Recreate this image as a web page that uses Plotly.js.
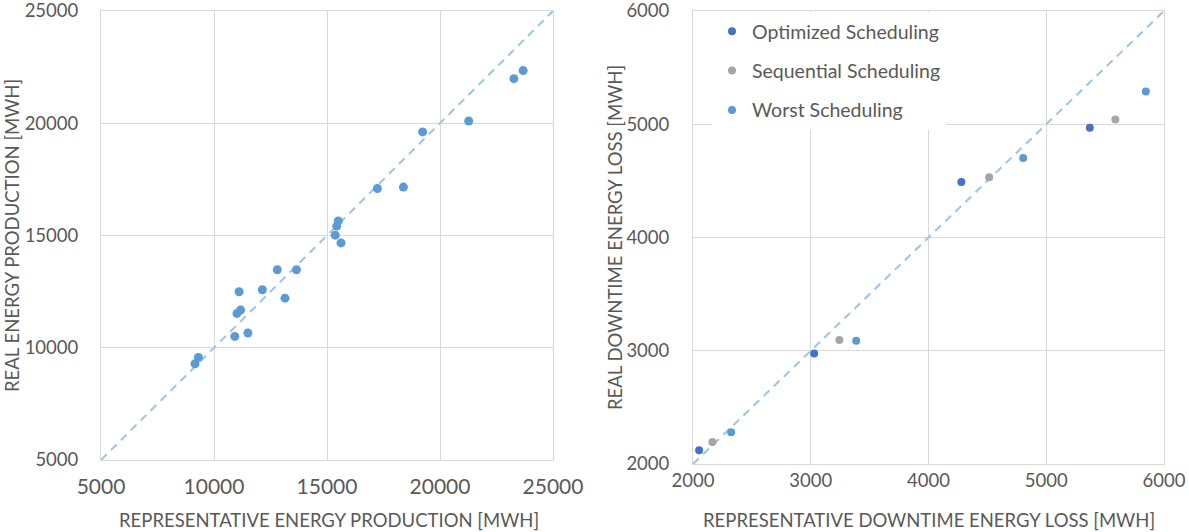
<!DOCTYPE html>
<html>
<head>
<meta charset="utf-8">
<script src="https://cdn.plot.ly/plotly-3.0.1.min.js"></script>
<style>
  html, body { margin: 0; padding: 0; background: #ffffff; }
  #chart { width: 1189px; height: 532px; }
</style>
</head>
<body>
<div id="chart"></div>
<script>
// Energy production: representative vs. real (MWh)
const prodRepresentative = [23680, 23270, 21270, 19230, 18380, 17230, 15500, 15430, 15365, 15620,
  13650, 12800, 12140, 13140, 11110, 11175, 11020, 11500, 10920, 9310, 9160];
const prodReal = [22345, 21985, 20100, 19615, 17155, 17095, 15650, 15420, 15015, 14670,
  13475, 13475, 12585, 12210, 12495, 11680, 11530, 10655, 10505, 9570, 9285];

// Downtime energy loss per scheduling strategy (MWh)
const optimizedRep = [2052, 3029, 4279, 5370];
const optimizedReal = [2122, 2975, 4491, 4968];
const sequentialRep = [2165, 3243, 4515, 5587];
const sequentialReal = [2194, 3095, 4532, 5043];
const worstRep = [2324, 3386, 4804, 5846];
const worstReal = [2280, 3089, 4702, 5290];

// Reference line y = x for each panel
const prodDiagonal = [5000, 25000];
const lossDiagonal = [2000, 6000];

// Tick labels
const prodTicks = [5000, 10000, 15000, 20000, 25000];
const lossTicks = [2000, 3000, 4000, 5000, 6000];

const seriesNames = ['Optimized Scheduling', 'Sequential Scheduling', 'Worst Scheduling'];
const axisTitles = {
  prodX: 'REPRESENTATIVE ENERGY PRODUCTION [MWH]',
  prodY: 'REAL ENERGY PRODUCTION [MWH]',
  lossX: 'REPRESENTATIVE DOWNTIME ENERGY LOSS [MWH]',
  lossY: 'REAL DOWNTIME ENERGY LOSS [MWH]'
};

const FONT = 'Lato, "Open Sans", sans-serif';
const TEXT = '#595959';
const GRID = '#d9d9d9';
const DIAG = '#9dc3e6';

const W = 1189, H = 532;
const px = v => v / W;
const py = v => 1 - v / H;

const traces = [
  {
    x: prodDiagonal, y: prodDiagonal, xaxis: 'x', yaxis: 'y',
    mode: 'lines', showlegend: false, hoverinfo: 'skip',
    line: { color: DIAG, width: 2, dash: '8px,6px' }
  },
  {
    x: prodRepresentative, y: prodReal, xaxis: 'x', yaxis: 'y',
    mode: 'markers', type: 'scatter', showlegend: false,
    marker: { color: '#5b9bd5', size: 9 }
  },
  {
    x: lossDiagonal, y: lossDiagonal, xaxis: 'x2', yaxis: 'y2',
    mode: 'lines', showlegend: false, hoverinfo: 'skip',
    line: { color: DIAG, width: 2, dash: '8px,6px' }
  },
  {
    x: optimizedRep, y: optimizedReal, xaxis: 'x2', yaxis: 'y2',
    mode: 'markers', type: 'scatter', name: seriesNames[0], legendgroup: 'a',
    marker: { color: '#4472c4', size: 8 }
  },
  {
    x: sequentialRep, y: sequentialReal, xaxis: 'x2', yaxis: 'y2',
    mode: 'markers', type: 'scatter', name: seriesNames[1], legendgroup: 'b',
    marker: { color: '#a5a5a5', size: 8 }
  },
  {
    x: worstRep, y: worstReal, xaxis: 'x2', yaxis: 'y2',
    mode: 'markers', type: 'scatter', name: seriesNames[2], legendgroup: 'c',
    marker: { color: '#5b9bd5', size: 8 }
  }
];

function axis(extra, fontSize) {
  return Object.assign({
    showgrid: true, gridcolor: GRID, gridwidth: 1,
    showline: true, linecolor: GRID, linewidth: 1, mirror: true,
    zeroline: false, ticks: '',
    tickmode: 'array', tickformat: 'd',
    ticklabeloverflow: 'allow',
    tickfont: { family: FONT, size: fontSize, color: TEXT },
    fixedrange: true
  }, extra);
}

function titleNote(text, x, y, angle) {
  return {
    text: text, xref: 'paper', yref: 'paper', x: x, y: y,
    xanchor: 'center', yanchor: 'middle', showarrow: false,
    textangle: angle, font: { family: FONT, size: 18.5, color: TEXT }
  };
}

const layout = {
  width: W, height: H,
  margin: { l: 0, r: 0, t: 0, b: 0 },
  paper_bgcolor: '#ffffff', plot_bgcolor: '#ffffff',
  font: { family: FONT, color: TEXT },
  xaxis: axis({
    domain: [px(101), px(553)], anchor: 'y',
    range: [5000, 25000], tickvals: prodTicks, ticklabelstandoff: 8
  }, 21),
  yaxis: axis({
    domain: [py(460), py(11)], anchor: 'x',
    range: [5000, 25000], tickvals: prodTicks, ticklabelstandoff: 18
  }, 18.5),
  xaxis2: axis({
    domain: [px(693), px(1164)], anchor: 'y2',
    range: [2000, 6000], tickvals: lossTicks, ticklabelstandoff: 0
  }, 18.5),
  yaxis2: axis({
    domain: [py(464), py(11)], anchor: 'x2',
    range: [2000, 6000], tickvals: lossTicks, ticklabelstandoff: 19
  }, 18.5),
  annotations: [
    titleNote(axisTitles.prodX, px(329), py(520), 0),
    titleNote(axisTitles.prodY, px(12), py(236), -90),
    titleNote(axisTitles.lossX, px(929), py(520), 0),
    titleNote(axisTitles.lossY, px(615), py(238), -90)
  ],
  showlegend: true,
  legend: {
    x: px(712), y: py(12), xanchor: 'left', yanchor: 'top',
    bgcolor: '#ffffff', borderwidth: 0,
    font: { family: FONT, size: 19.5, color: TEXT },
    tracegroupgap: 11, itemwidth: 30
  }
};

Plotly.newPlot('chart', traces, layout, { displayModeBar: false, staticPlot: true });
</script>
</body>
</html>
